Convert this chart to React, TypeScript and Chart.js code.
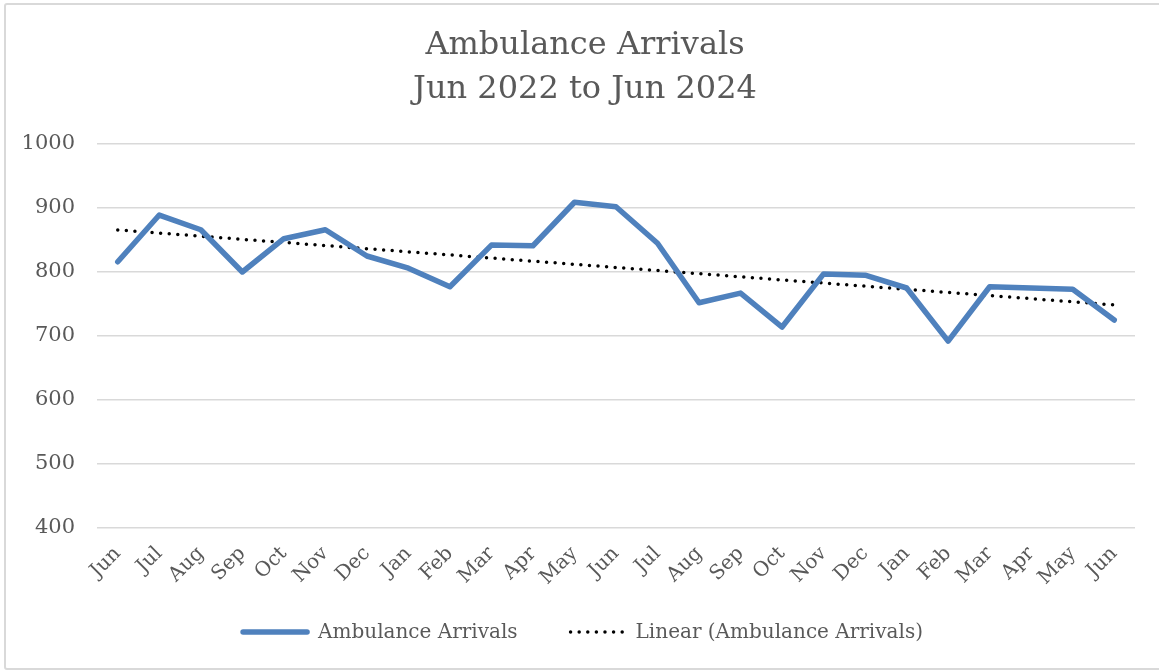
import React, { useEffect, useRef } from "react";
import { Chart, registerables } from "chart.js";

Chart.register(...registerables);

const months: string[] = [
  "Jun", "Jul", "Aug", "Sep", "Oct", "Nov", "Dec", "Jan", "Feb", "Mar", "Apr", "May",
  "Jun", "Jul", "Aug", "Sep", "Oct", "Nov", "Dec", "Jan", "Feb", "Mar", "Apr", "May", "Jun",
];

const arrivals: number[] = [
  816, 889, 866, 800, 852, 866, 825, 806, 777, 842, 841, 909,
  902, 845, 752, 767, 714, 797, 795, 775, 692, 777, 775, 773, 725,
];

const titleLines: string[] = ["Ambulance Arrivals", "Jun 2022 to Jun 2024"];

// Least-squares linear trend of the series (same as a spreadsheet "Linear" trendline)
function linearTrend(values: number[]): number[] {
  const n = values.length;
  let sx = 0, sy = 0, sxx = 0, sxy = 0;
  values.forEach((y, i) => {
    sx += i; sy += y; sxx += i * i; sxy += i * y;
  });
  const slope = (n * sxy - sx * sy) / (n * sxx - sx * sx);
  const intercept = (sy - slope * sx) / n;
  return values.map((_, i) => intercept + slope * i);
}

const FONT = "'DejaVu Serif', serif";
const TEXT = "#595959";
const BLUE = "#4F81BD";
const DOT_DASH = [0, 8.6];

// Bottom legend: a line sample followed by its label, items laid out in one centred row
const bottomLegend = {
  id: "bottomLegend",
  afterDraw(chart: any) {
    const ctx = chart.ctx as CanvasRenderingContext2D;
    const y = 632;
    const itemGap = 52;
    ctx.save();
    ctx.font = `20px ${FONT}`;
    ctx.textBaseline = "middle";
    ctx.textAlign = "left";
    const items = chart.data.datasets.map((ds: any) => {
      const dotted = !!(ds.borderDash && ds.borderDash.length);
      return {
        label: ds.label as string,
        color: ds.borderColor as string,
        width: ds.borderWidth as number,
        dash: (ds.borderDash || []) as number[],
        lineFrom: dotted ? 1 : 3,
        lineTo: dotted ? 56 : 67,
        textAt: dotted ? 66 : 78,
        textW: ctx.measureText(ds.label).width,
      };
    });
    const total =
      items.reduce((s: number, it: any) => s + it.textAt + it.textW, 0) + itemGap * (items.length - 1);
    let x = chart.width / 2 + 2 - total / 2;
    for (const it of items) {
      ctx.beginPath();
      ctx.strokeStyle = it.color;
      ctx.lineWidth = it.width;
      ctx.lineCap = "round";
      ctx.setLineDash(it.dash);
      ctx.moveTo(x + it.lineFrom, y);
      ctx.lineTo(x + it.lineTo, y);
      ctx.stroke();
      ctx.setLineDash([]);
      ctx.fillStyle = TEXT;
      ctx.fillText(it.label, x + it.textAt, y + 1);
      x += it.textAt + it.textW + itemGap;
    }
    ctx.restore();
  },
};

export default function App() {
  const ref = useRef<HTMLCanvasElement>(null);

  useEffect(() => {
    if (!ref.current) return;
    const chart = new Chart(ref.current, {
      type: "line",
      data: {
        labels: months,
        datasets: [
          {
            label: "Ambulance Arrivals",
            data: arrivals,
            borderColor: BLUE,
            backgroundColor: BLUE,
            borderWidth: 5.5,
            borderCapStyle: "round",
            borderJoinStyle: "round",
            pointRadius: 0,
            tension: 0,
          },
          {
            label: "Linear (Ambulance Arrivals)",
            data: linearTrend(arrivals),
            borderColor: "#000000",
            backgroundColor: "#000000",
            borderWidth: 3.5,
            borderDash: DOT_DASH,
            borderCapStyle: "round",
            pointRadius: 0,
            tension: 0,
          },
        ],
      },
      options: {
        animation: false,
        responsive: false,
        maintainAspectRatio: false,
        layout: { padding: { left: 12, right: 1, top: 24, bottom: 66 } },
        plugins: {
          title: {
            display: true,
            text: titleLines,
            color: TEXT,
            font: { family: FONT, size: 32, weight: "normal", lineHeight: 1.375 },
            padding: { top: 0, bottom: 32 },
          },
          legend: { display: false },
          tooltip: { enabled: false },
        },
        scales: {
          x: {
            offset: true,
            grid: { display: false },
            border: { display: false },
            ticks: {
              color: TEXT,
              font: { family: FONT, size: 20 },
              maxRotation: 45,
              minRotation: 45,
              autoSkip: false,
              padding: 6,
            },
            afterFit: (scale: any) => {
              scale.height = 76;
            },
          },
          y: {
            min: 400,
            max: 1000,
            grid: { color: "#d9d9d9", lineWidth: 1.5, drawTicks: false },
            border: { display: false },
            ticks: {
              stepSize: 100,
              color: TEXT,
              font: { family: FONT, size: 21 },
              padding: 22,
              callback: (v: any) => String(v),
            },
            afterFit: (scale: any) => {
              scale.width = 85;
            },
          },
          // empty right-hand margin strip beside the plot
          yRight: {
            position: "right",
            display: true,
            grid: { display: false },
            border: { display: false },
            ticks: { display: false },
            afterFit: (scale: any) => {
              scale.width = 23;
            },
          },
        },
      },
      plugins: [bottomLegend],
    });
    return () => chart.destroy();
  }, []);

  return (
    <div style={{ position: "absolute", left: 0, top: 0, width: 1159, height: 670, overflow: "hidden", background: "#fff" }}>
      <div
        style={{
          position: "absolute",
          left: 4,
          top: 3,
          width: 1170,
          height: 663,
          border: "2px solid #d9d9d9",
          borderRadius: 3,
        }}
      />
      <canvas ref={ref} width={1159} height={670} style={{ position: "absolute", left: 0, top: 0 }} />
    </div>
  );
}
